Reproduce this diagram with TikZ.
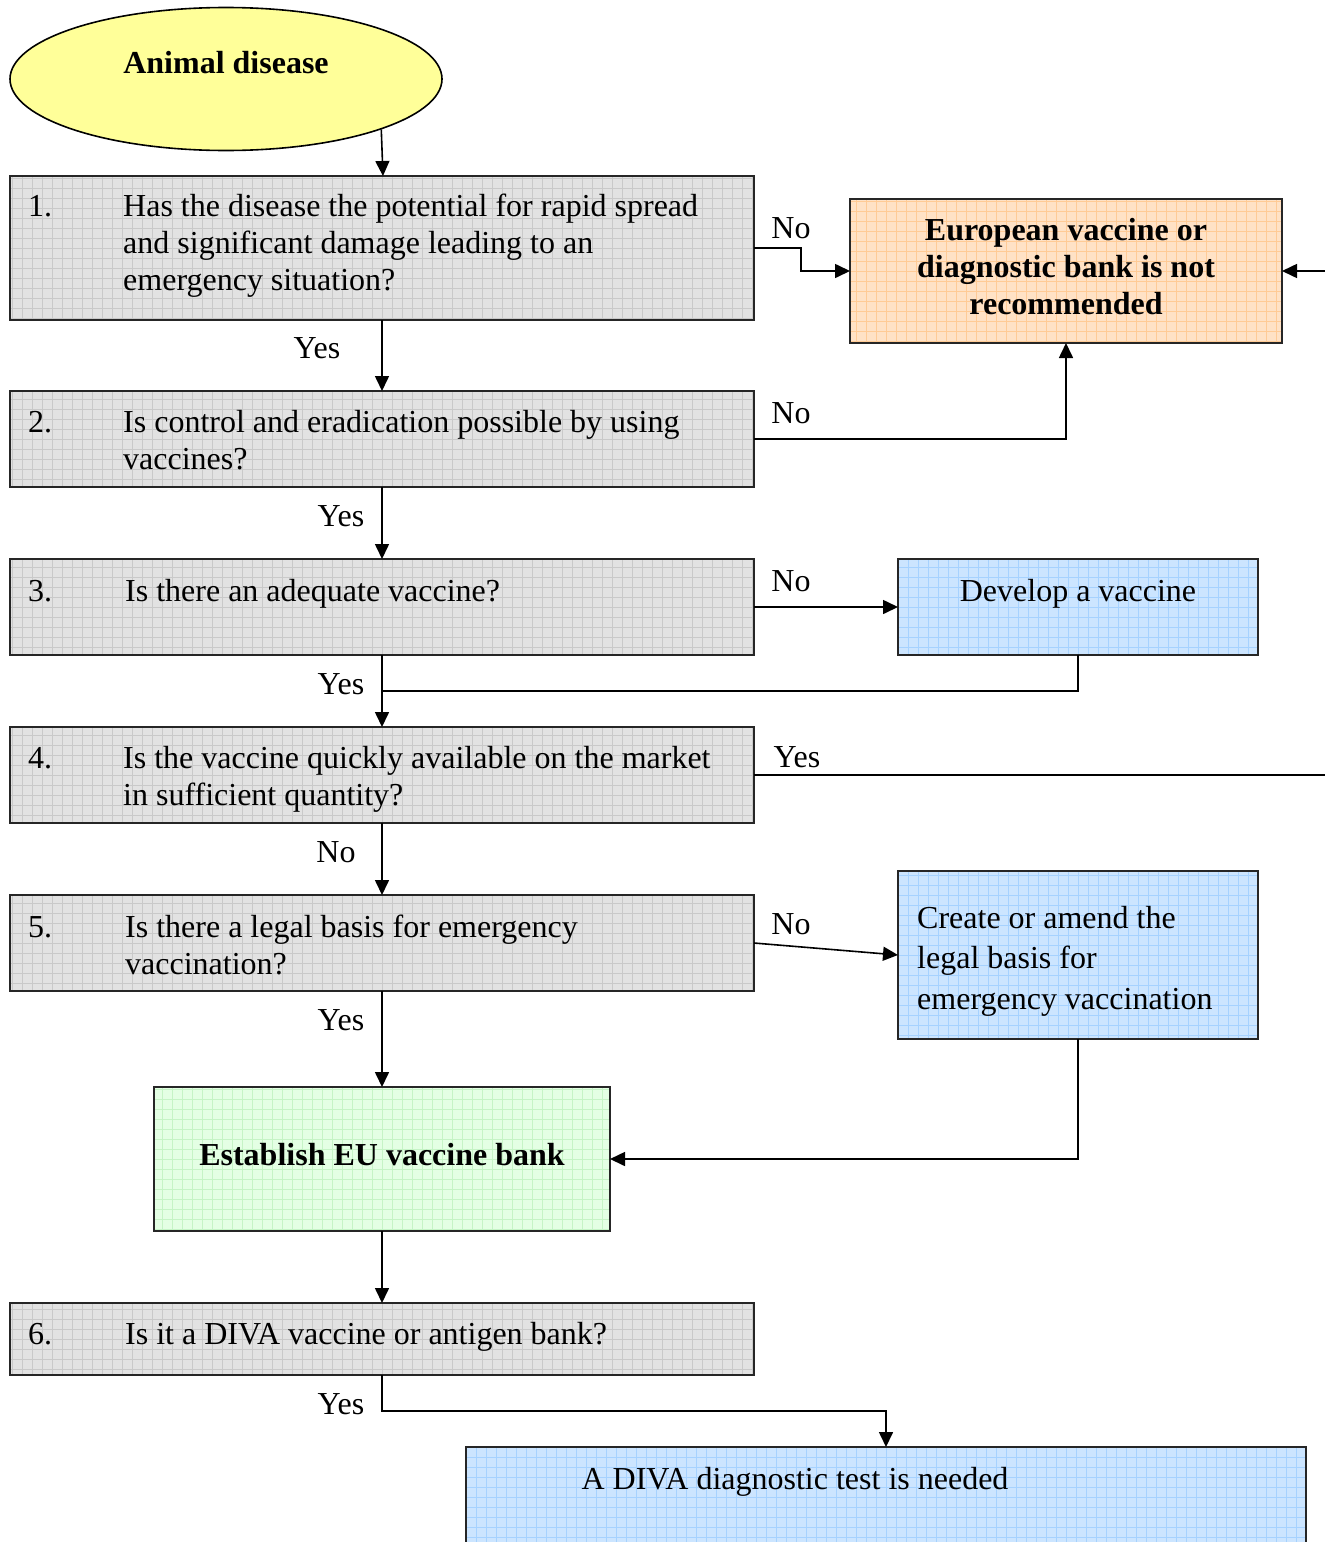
\documentclass[tikz,border=0pt]{standalone}
\usepackage{fontspec}
\setmainfont{Liberation Serif}
\usetikzlibrary{shapes.geometric,arrows.meta,calc}

\definecolor{grayF}{HTML}{E2E2E2}
\definecolor{grayG}{HTML}{C9C9C9}
\definecolor{orangeF}{HTML}{FFE2C6}
\definecolor{orangeG}{HTML}{FFCB96}
\definecolor{blueF}{HTML}{CCE5FF}
\definecolor{blueG}{HTML}{A6D2FF}
\definecolor{greenF}{HTML}{E4FFE4}
\definecolor{greenG}{HTML}{C6F4C6}
\definecolor{yellowF}{HTML}{FFFF99}

\tikzset{
  box/.style 2 args={draw=black!85, line width=1.8pt, fill=#1, inner sep=0pt, outer sep=0pt,
    path picture={\draw[#2, line width=0.7pt]
      (path picture bounding box.south west) grid[step=10pt]
      (path picture bounding box.north east);}},
  qbox/.style={box={grayF}{grayG}},
  obox/.style={box={orangeF}{orangeG}},
  bbox/.style={box={blueF}{blueG}},
  gbox/.style={box={greenF}{greenG}},
  txt/.style={inner sep=0pt, font=\fontsize{32pt}{37pt}\selectfont},
  btxt/.style={inner sep=0pt, font=\fontsize{32pt}{37pt}\selectfont\bfseries},
  lbl/.style={txt, anchor=base},
  conn/.style={line width=1.6pt, black},
  arr/.style={conn, -{Triangle[length=15pt,width=14pt]}},
}

\begin{document}
\begin{tikzpicture}[x=1pt,y=-1pt]
\clip (0,0) rectangle (1325,1542);

% start ellipse
\node[ellipse, draw=black, line width=1.6pt, fill=yellowF,
      minimum width=432pt, minimum height=143pt] (ell) at (226,79) {};
\node[btxt, anchor=base] (ellt) at (226,73) {Animal disease};

% question boxes
\node[qbox, minimum width=744pt, minimum height=144pt] (b1) at (382,248) {};
\node[qbox, minimum width=744pt, minimum height=96pt]  (b2) at (382,439) {};
\node[qbox, minimum width=744pt, minimum height=96pt]  (b3) at (382,607) {};
\node[qbox, minimum width=744pt, minimum height=96pt]  (b4) at (382,775) {};
\node[qbox, minimum width=744pt, minimum height=96pt]  (b5) at (382,943) {};
\node[qbox, minimum width=744pt, minimum height=72pt]  (b6) at (382,1339) {};

% outcome boxes
\node[obox, minimum width=432pt, minimum height=144pt] (eu) at (1066,271) {};
\node[bbox, minimum width=360pt, minimum height=96pt]  (dev) at (1078,607) {};
\node[bbox, minimum width=360pt, minimum height=168pt] (cr) at (1078,955) {};
\node[gbox, minimum width=456pt, minimum height=144pt] (est) at (382,1159) {};
\node[bbox, minimum width=840pt, minimum height=200pt] (dv) at (886,1547) {};

% question texts
\node[txt, anchor=base west] (n1) at (28,216) {1.};
\node[txt, anchor=base west] (q1) at (123,216) {\parbox[t]{660pt}{\raggedright Has the disease the potential for rapid spread\\ and significant damage leading to an\\ emergency situation?}};
\node[txt, anchor=base west] (n2) at (28,432) {2.};
\node[txt, anchor=base west] (q2) at (123,432) {\parbox[t]{660pt}{\raggedright Is control and eradication possible by using\\ vaccines?}};
\node[txt, anchor=base west] (n3) at (28,601) {3.};
\node[txt, anchor=base west] (q3) at (125,601) {Is there an adequate vaccine?};
\node[txt, anchor=base west] (n4) at (28,768) {4.};
\node[txt, anchor=base west] (q4) at (123,768) {\parbox[t]{660pt}{\raggedright Is the vaccine quickly available on the market\\ in sufficient quantity?}};
\node[txt, anchor=base west] (n5) at (28,937) {5.};
\node[txt, anchor=base west] (q5) at (125,937) {\parbox[t]{660pt}{\raggedright Is there a legal basis for emergency\\ vaccination?}};
\node[txt, anchor=base west] (n6) at (28,1344) {6.};
\node[txt, anchor=base west] (q6) at (125,1344) {Is it a DIVA vaccine or antigen bank?};

% outcome texts
\node[btxt, anchor=base] (eut) at (1066,240)
  {\parbox[t]{420pt}{\centering European vaccine or\\ diagnostic bank is not\\ recommended}};
\node[txt, anchor=base] (devt) at (1078,601) {Develop a vaccine};
\node[txt, anchor=base west, font=\fontsize{32pt}{40.5pt}\selectfont] (crt) at (917,928)
  {\parbox[t]{340pt}{\raggedright Create or amend the\\ legal basis for\\ emergency vaccination}};
\node[btxt, anchor=base] (estt) at (382,1165) {Establish EU vaccine bank};
\node[txt, anchor=base] (dvt) at (795,1489) {A DIVA diagnostic test is needed};

% branch labels
\node[lbl] (l1n) at (791,238) {No};
\node[lbl] (l1y) at (317,358) {Yes};
\node[lbl] (l2n) at (791,423) {No};
\node[lbl] (l2y) at (341,526) {Yes};
\node[lbl] (l3n) at (791,591) {No};
\node[lbl] (l3y) at (341,694) {Yes};
\node[lbl] (l4y) at (797,767) {Yes};
\node[lbl] (l4n) at (336,862) {No};
\node[lbl] (l5n) at (791,934) {No};
\node[lbl] (l5y) at (341,1030) {Yes};
\node[lbl] (l6y) at (341,1414) {Yes};

% loose ends and junctions
\coordinate (rin) at (1325,271);
\coordinate (rout) at (1325,775);
\coordinate (j3) at (382,691);

% connectors
\draw[arr] (ell.-18) -- ($(b1.north)+(1,0)$);
\draw[arr] (b1.east) -- ++(47,0) |- (eu.west);
\draw[arr] (rin) -- (eu.east);
\draw[arr] (b1.south) -- (b2.north);
\draw[arr] (b2.east) -| (eu.south);
\draw[arr] (b2.south) -- (b3.north);
\draw[arr] (b3.east) -- (dev.west);
\draw[conn] (dev.south) |- (j3);
\draw[arr] (b3.south) -- (b4.north);
\draw[conn] (b4.east) -- (rout);
\draw[arr] (b4.south) -- (b5.north);
\draw[arr] (b5.east) -- (cr.west);
\draw[arr] (cr.south) |- (est.east);
\draw[arr] (b5.south) -- (est.north);
\draw[arr] (est.south) -- (b6.north);
\draw[arr] (b6.south) -- ++(0,36) -| (dv.north);
\end{tikzpicture}
\end{document}
